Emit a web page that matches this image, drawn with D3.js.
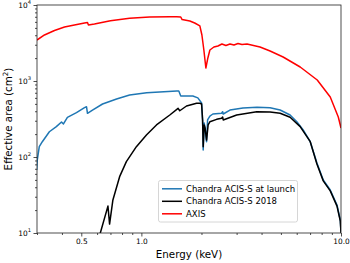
<!DOCTYPE html>
<html><head><meta charset="utf-8">
<script src="https://cdn.jsdelivr.net/npm/d3@7"></script>
<style>body{margin:0;background:#fff}svg{display:block;font-family:"DejaVu Sans",sans-serif}</style>
</head><body>
<svg id="c" width="350" height="263"></svg>
<script>
// ---- data (energy keV, effective area cm^2) ----
const axisE = [0.30,0.327,0.367,0.412,0.462,0.519,0.537,0.543,0.582,0.70,0.873,1.10,1.39,1.504,1.575,1.60,1.749,1.85,1.963,2.010,2.056,2.104,2.153,2.204,2.308,2.418,2.532,2.652,2.778,2.910,3.048,3.191,3.382,3.929,4.413,5.129,6.245,7.603,8.834,9.692,10.0];
const axisA = [3462,4030,4618,5140,5455,5800,5885,5455,5623,6214,6683,6955,7015,7015,6955,6440,6160,5795,5300,4030,2558,1483,2009,2558,2801,2887,3068,2932,3068,2977,3113,3020,3068,2801,2483,2070,1528,1031,616,336,241];

const launchE = [0.299,0.301,0.308,0.319,0.346,0.375,0.398,0.407,0.426,0.473,0.519,0.531,0.537,0.569,0.639,0.751,0.873,1.063,1.504,1.54,1.575,1.811,1.918,2.003,2.026,2.040,2.064,2.087,2.121,2.146,2.204,2.281,2.523,2.553,2.570,2.778,3.228,3.797,4.413,4.955,5.559,6.008,6.465,7.013,7.575,8.149,8.834,9.549,9.92,10.0];
const launchA = [67.5,91.4,136.6,159,215,251,289,272,333,383,446,459,376,415,498,580,655,702,739,739,635,635,600,513,307,123.6,280,227,159,307,346,368,376,394,368,415,441,451,446,415,357,291,227,159,83.4,49.8,36.8,23.4,14.8,10.4];

const now2018E = [0.622,0.680,0.693,0.720,0.778,0.841,0.944,1.06,1.19,1.388,1.527,1.557,1.683,1.89,1.963,2.003,2.026,2.040,2.064,2.087,2.121,2.16,2.204,2.382,2.523,2.553,2.570,3.001,3.784,4.413,4.955,5.559,6.245,7.013,7.575,8.149,8.834,9.549,9.92,10.0];
const now2018A = [9.9,22.6,13.1,27.2,55.1,86.8,136.6,195,264,357,437,406,469,509,509,498,307,136.6,264,239,167,264,291,313,323,336,307,357,394,391,376,333,251,159,81,48.5,35.8,22.6,14.3,10];

const seriesNames = ["Chandra ACIS-S at launch","Chandra ACIS-S 2018","AXIS"];
const seriesColors = ["#1f77b4","#000000","#ff0000"];
const xTickLabels = [0.5,1.0,10.0];
const xMinorTicks = [0.3,0.4,0.6,0.7,0.8,0.9,2,3,4,5,6,7,8,9];
const yMajorTicks = [10,100,1000,10000];

// ---- layout ----
const L=37, R=341, T=5, B=233;
const svg = d3.select("#c");
const x = d3.scaleLog().domain([0.3,10]).range([L,R]);
const y = d3.scaleLog().domain([10,10000]).range([B,T]);

svg.append("defs").append("clipPath").attr("id","clip")
  .append("rect").attr("x",L).attr("y",T).attr("width",R-L).attr("height",B-T);

const line = d3.line().x(d=>x(d[0])).y(d=>y(d[1]));
const series = [
  d3.zip(launchE, launchA),
  d3.zip(now2018E, now2018A),
  d3.zip(axisE, axisA)
];
const g = svg.append("g").attr("clip-path","url(#clip)");
series.forEach((s,i)=>{
  g.append("path").datum(s).attr("d",line).attr("fill","none")
    .attr("stroke",seriesColors[i]).attr("stroke-width",1.5).attr("stroke-linejoin","round");
});

// ---- axes ----
const tickColor="#222";
function styleAxis(sel){
  sel.select(".domain").remove();
  sel.selectAll(".tick line").attr("stroke",tickColor).attr("stroke-width",0.8);
  sel.selectAll("text").attr("fill","#000").attr("font-size","7.4px").attr("font-family","DejaVu Sans");
}
const xMajor = svg.append("g").attr("transform",`translate(0,${B})`)
  .call(d3.axisBottom(x).tickValues(xTickLabels).tickSize(3.5).tickPadding(2.5).tickFormat(d3.format(".1f")));
styleAxis(xMajor);
const xMin = svg.append("g").attr("transform",`translate(0,${B})`)
  .call(d3.axisBottom(x).tickValues(xMinorTicks).tickSize(2).tickFormat(""));
styleAxis(xMin);

const yMinorVals = [];
[10,100,1000].forEach(d=>{for(let k=2;k<=9;k++) yMinorVals.push(d*k);});
const yMaj = svg.append("g").attr("transform",`translate(${L},0)`)
  .call(d3.axisLeft(y).tickValues(yMajorTicks).tickSize(3.5).tickPadding(2.5).tickFormat(""));
styleAxis(yMaj);
yMaj.selectAll(".tick text").each(function(d){
  const t=d3.select(this);
  t.text(null).attr("dy","0.32em");
  t.append("tspan").text("10");
  t.append("tspan").attr("font-size","5.2px").attr("dy","-0.75em").text(Math.round(Math.log10(d)));
});
const yMin = svg.append("g").attr("transform",`translate(${L},0)`)
  .call(d3.axisLeft(y).tickValues(yMinorVals).tickSize(2).tickFormat(""));
styleAxis(yMin);

// spines
svg.append("rect").attr("x",L).attr("y",T).attr("width",R-L).attr("height",B-T)
  .attr("fill","none").attr("stroke",tickColor).attr("stroke-width",0.8);

// labels
svg.append("text").attr("x",(L+R)/2).attr("y",258).attr("text-anchor","middle")
  .attr("font-size","10.3px").attr("fill","#000").text("Energy (keV)");
const yl = svg.append("text").attr("transform",`translate(12,${(T+B)/2}) rotate(-90)`)
  .attr("text-anchor","middle").attr("font-size","10.3px").attr("fill","#000");
yl.append("tspan").text("Effective area (cm");
yl.append("tspan").attr("font-size","7.2px").attr("dy","-0.5em").text("2");
yl.append("tspan").attr("dy","0.36em").text(")");

// legend
const lg = svg.append("g");
lg.append("rect").attr("x",158.5).attr("y",180.5).attr("width",139).attr("height",41.5)
  .attr("rx",2).attr("fill","#fff").attr("fill-opacity",0.8).attr("stroke","#ccc").attr("stroke-width",0.8);
seriesNames.forEach((n,i)=>{
  const yy = 188.8 + i*12.5;
  lg.append("line").attr("x1",162).attr("x2",182).attr("y1",yy).attr("y2",yy)
    .attr("stroke",seriesColors[i]).attr("stroke-width",1.5);
  lg.append("text").attr("x",186).attr("y",yy+3).attr("font-size","8.5px").attr("fill","#000").text(n);
});
</script>
</body></html>
